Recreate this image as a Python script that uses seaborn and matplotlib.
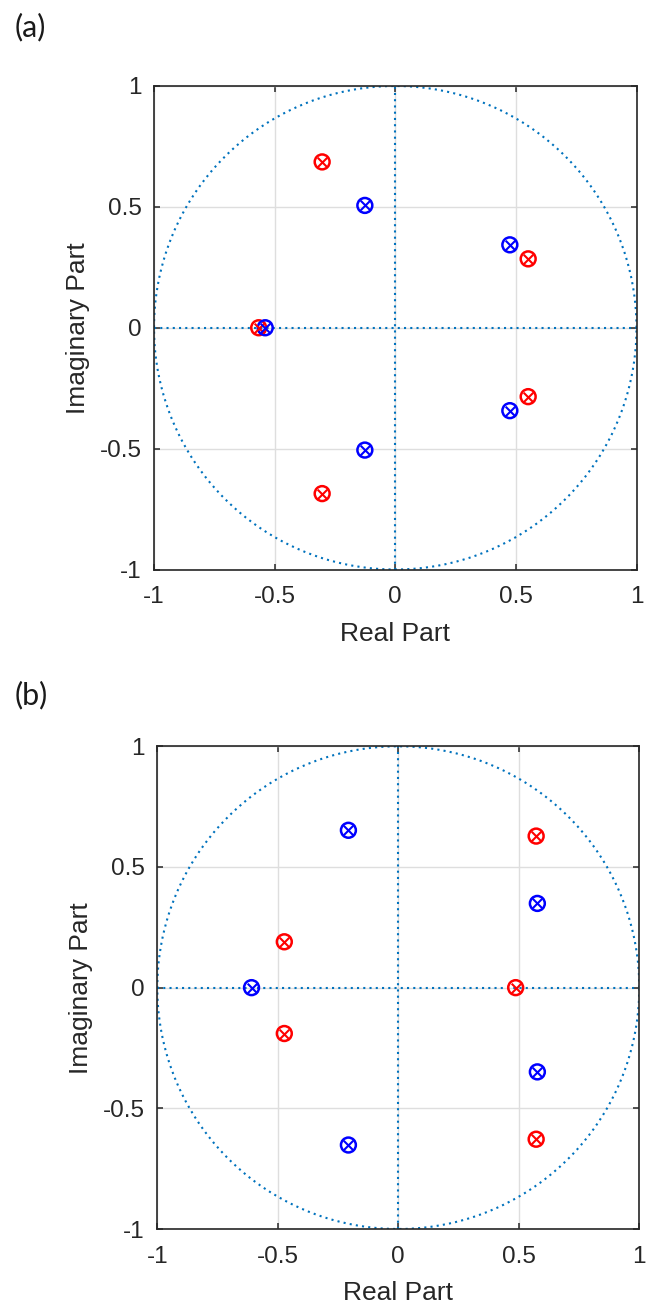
import numpy as np
import pandas as pd
import matplotlib
matplotlib.use("Agg")
import matplotlib.pyplot as plt
import seaborn as sns

# ---- data ----
a_red_re = [-0.303, -0.303, 0.551, 0.551, -0.566]
a_red_im = [0.686, -0.686, 0.285, -0.285, 0.0]
a_blue_re = [-0.126, -0.126, 0.475, 0.475, -0.539]
a_blue_im = [0.506, -0.506, 0.343, -0.343, 0.0]

b_red_re = [-0.473, -0.473, 0.572, 0.572, 0.487]
b_red_im = [0.190, -0.190, 0.628, -0.628, 0.0]
b_blue_re = [-0.207, -0.207, 0.577, 0.577, -0.609]
b_blue_im = [0.652, -0.652, 0.349, -0.349, 0.0]

tick_vals = [-1, -0.5, 0, 0.5, 1]
tick_labels = ["-1", "-0.5", "0", "0.5", "1"]
panel_labels = ["(a)", "(b)"]

sns.set_theme(style="white")
plt.rcParams['font.family'] = ['Liberation Sans', 'DejaVu Sans']

fig = plt.figure(figsize=(6.58, 13.09), dpi=100)
W, H = 658, 1309
pos_a = [154 / W, 1 - 569.5 / H, 482.5 / W, 483.5 / H]
pos_b = [157.3 / W, 1 - 1229 / H, 482 / W, 482.7 / H]

circ_col = '#0072BD'
theta = np.linspace(0, 2 * np.pi, 721)
dot_style = (0, (1, 2.0))


def draw(ax, rr, ri, br, bi):
    ax.set_xlim(-1, 1)
    ax.set_ylim(-1, 1)
    ax.grid(True, color='#dedede', linewidth=1.0)
    ax.set_axisbelow(True)
    circ = pd.DataFrame({'x': np.cos(theta), 'y': np.sin(theta)})
    ax.plot(circ['x'], circ['y'], linestyle=dot_style, color=circ_col, linewidth=1.5, zorder=2)
    ax.plot([-1, 1], [0, 0], linestyle=dot_style, color=circ_col, linewidth=1.5, zorder=2)
    ax.plot([0, 0], [-1, 1], linestyle=dot_style, color=circ_col, linewidth=1.5, zorder=2)
    for re, im, col in [(rr, ri, '#ff0000'), (br, bi, '#0000ff')]:
        df = pd.DataFrame({'re': re, 'im': im})
        sns.scatterplot(data=df, x='re', y='im', ax=ax, marker='o', s=115,
                        facecolors='none', edgecolor=col, linewidth=1.8, zorder=4)
        sns.scatterplot(data=df, x='re', y='im', ax=ax, marker='x', s=48,
                        color=col, linewidth=1.5, zorder=5)
    ax.set_xticks(tick_vals)
    ax.set_xticklabels(tick_labels)
    ax.set_yticks(tick_vals)
    ax.set_yticklabels(tick_labels)
    ax.tick_params(axis='both', which='both', direction='in', length=4.5, width=1.1,
                   color='#262626', labelsize=17.5, labelcolor='#262626',
                   top=True, right=True, bottom=True, left=True)
    ax.tick_params(axis='x', pad=12)
    ax.tick_params(axis='y', pad=9)
    for sp in ax.spines.values():
        sp.set_visible(True)
        sp.set_color('#262626')
        sp.set_linewidth(1.2)
    ax.set_xlabel('Real Part', fontsize=19, color='#262626', va='center')
    ax.set_ylabel('Imaginary Part', fontsize=19, color='#262626', va='center')
    ax.xaxis.set_label_coords(0.5, -0.133)
    ax.yaxis.set_label_coords(-0.1575, 0.5)


ax_a = fig.add_axes(pos_a)
draw(ax_a, a_red_re, a_red_im, a_blue_re, a_blue_im)
ax_b = fig.add_axes(pos_b)
draw(ax_b, b_red_re, b_red_im, b_blue_re, b_blue_im)

fig.text(15 / W, 1 - 27 / H, panel_labels[0], fontsize=22, ha='left', va='center',
         family=['Lato', 'DejaVu Sans'], color='#1a1a1a')
fig.text(15 / W, 1 - 695 / H, panel_labels[1], fontsize=22, ha='left', va='center',
         family=['Lato', 'DejaVu Sans'], color='#1a1a1a')

fig.savefig('out.png', dpi=100, facecolor='white')
